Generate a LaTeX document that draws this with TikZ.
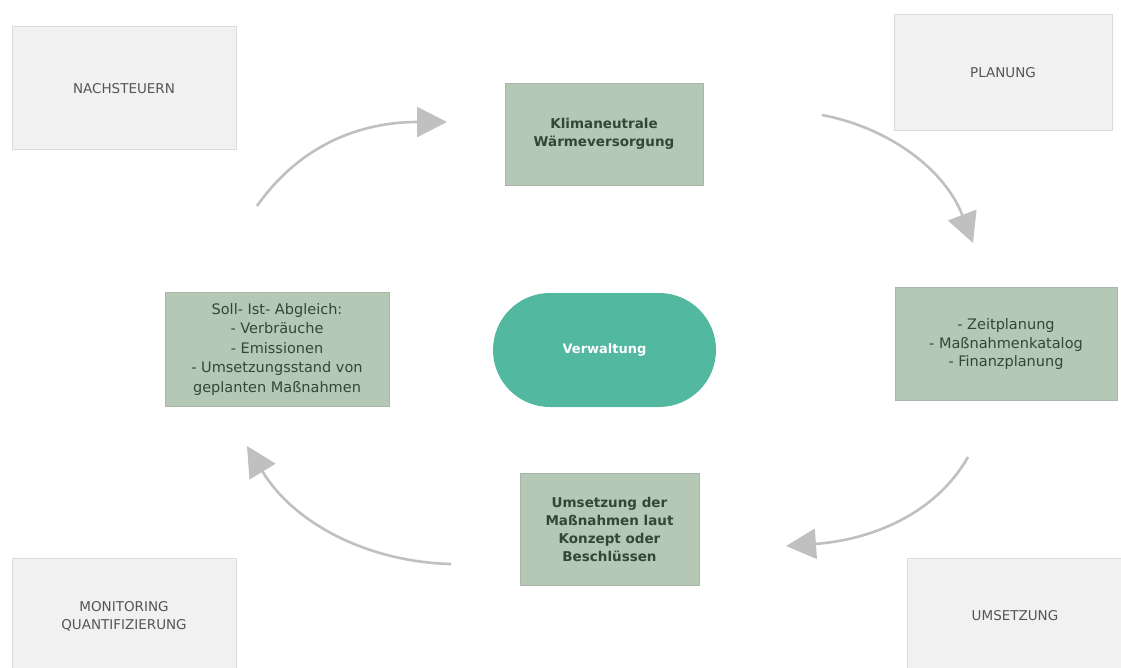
\documentclass[tikz,border=0pt]{standalone}
\usepackage{fontspec}
\setmainfont{DejaVu Sans}
\usetikzlibrary{arrows.meta}
\definecolor{sage}{RGB}{181,200,182}
\definecolor{sageedge}{RGB}{168,182,170}
\definecolor{lightbox}{RGB}{241,241,241}
\definecolor{lightedge}{RGB}{214,222,219}
\definecolor{tealfill}{RGB}{82,184,160}
\definecolor{arrowgray}{RGB}{192,192,192}
\definecolor{darktext}{RGB}{52,70,56}
\definecolor{graytext}{RGB}{85,85,85}
\tikzset{
  phasebox/.style={draw=lightedge, line width=1pt, fill=lightbox, text=graytext,
    font=\fontsize{13.5}{18}\selectfont, align=center, inner sep=0pt},
  sagebox/.style={draw=sageedge, line width=0.8pt, fill=sage, text=darktext,
    align=center, inner sep=0pt},
  cyclearrow/.style={draw=arrowgray, line width=2.6pt,
    -{Triangle[length=30pt,width=30pt]}}
}
\begin{document}
\begin{tikzpicture}[x=1pt,y=-1pt]
\useasboundingbox[fill=white] (0,0) rectangle (1121,668);
% phase boxes
\node[phasebox, minimum width=224pt, minimum height=123pt] (nach) at (124,88.5) {NACHSTEUERN};
\node[phasebox, minimum width=218pt, minimum height=116pt] (plan) at (1003,73) {PLANUNG};
\node[phasebox, minimum width=224pt, minimum height=115pt] (moni) at (124,616) {MONITORING\\QUANTIFIZIERUNG};
\node[phasebox, minimum width=216pt, minimum height=115pt] (umse) at (1015,616) {UMSETZUNG};
% content boxes
\node[sagebox, minimum width=198pt, minimum height=102pt, font=\fontsize{13.5}{18.5}\selectfont\bfseries] (klima) at (604,134) {Klimaneutrale\\Wärmeversorgung};
\node[sagebox, minimum width=222pt, minimum height=113pt, font=\fontsize{14.5}{18.5}\selectfont] (zeit) at (1006,344) {- Zeitplanung\\- Maßnahmenkatalog\\- Finanzplanung};
\node[sagebox, minimum width=224pt, minimum height=114pt, font=\fontsize{14.5}{19.5}\selectfont] (soll) at (277,349) {Soll- Ist- Abgleich:\\- Verbräuche\\- Emissionen\\- Umsetzungsstand von\\geplanten Maßnahmen};
\node[sagebox, minimum width=179pt, minimum height=112pt, font=\fontsize{13.5}{18}\selectfont\bfseries] (mass) at (609.5,529) {Umsetzung der\\Maßnahmen laut\\Konzept oder\\Beschlüssen};
% centre
\node[fill=tealfill, text=white, rounded corners=57pt, minimum width=223pt, minimum height=114pt,
  font=\fontsize{13}{15}\selectfont\bfseries] (verw) at (604.5,350) {Verwaltung};
% arrows
\coordinate (a1s) at (257,206);
\coordinate (a1e) at (447,122);
\coordinate (a2s) at (822,115);
\coordinate (a2e) at (973,243);
\coordinate (a3s) at (968,457);
\coordinate (a3e) at (786,546);
\coordinate (a4s) at (451,564);
\coordinate (a4e) at (247,446);
\draw[cyclearrow] (a1s) .. controls (300,145) and (360,122) .. (a1e);
\draw[cyclearrow] (a2s) .. controls (890,128) and (945,170) .. (a2e);
\draw[cyclearrow] (a3s) .. controls (935,515) and (870,540) .. (a3e);
\draw[cyclearrow] (a4s) .. controls (370,562) and (295,525) .. (a4e);
\end{tikzpicture}
\end{document}
